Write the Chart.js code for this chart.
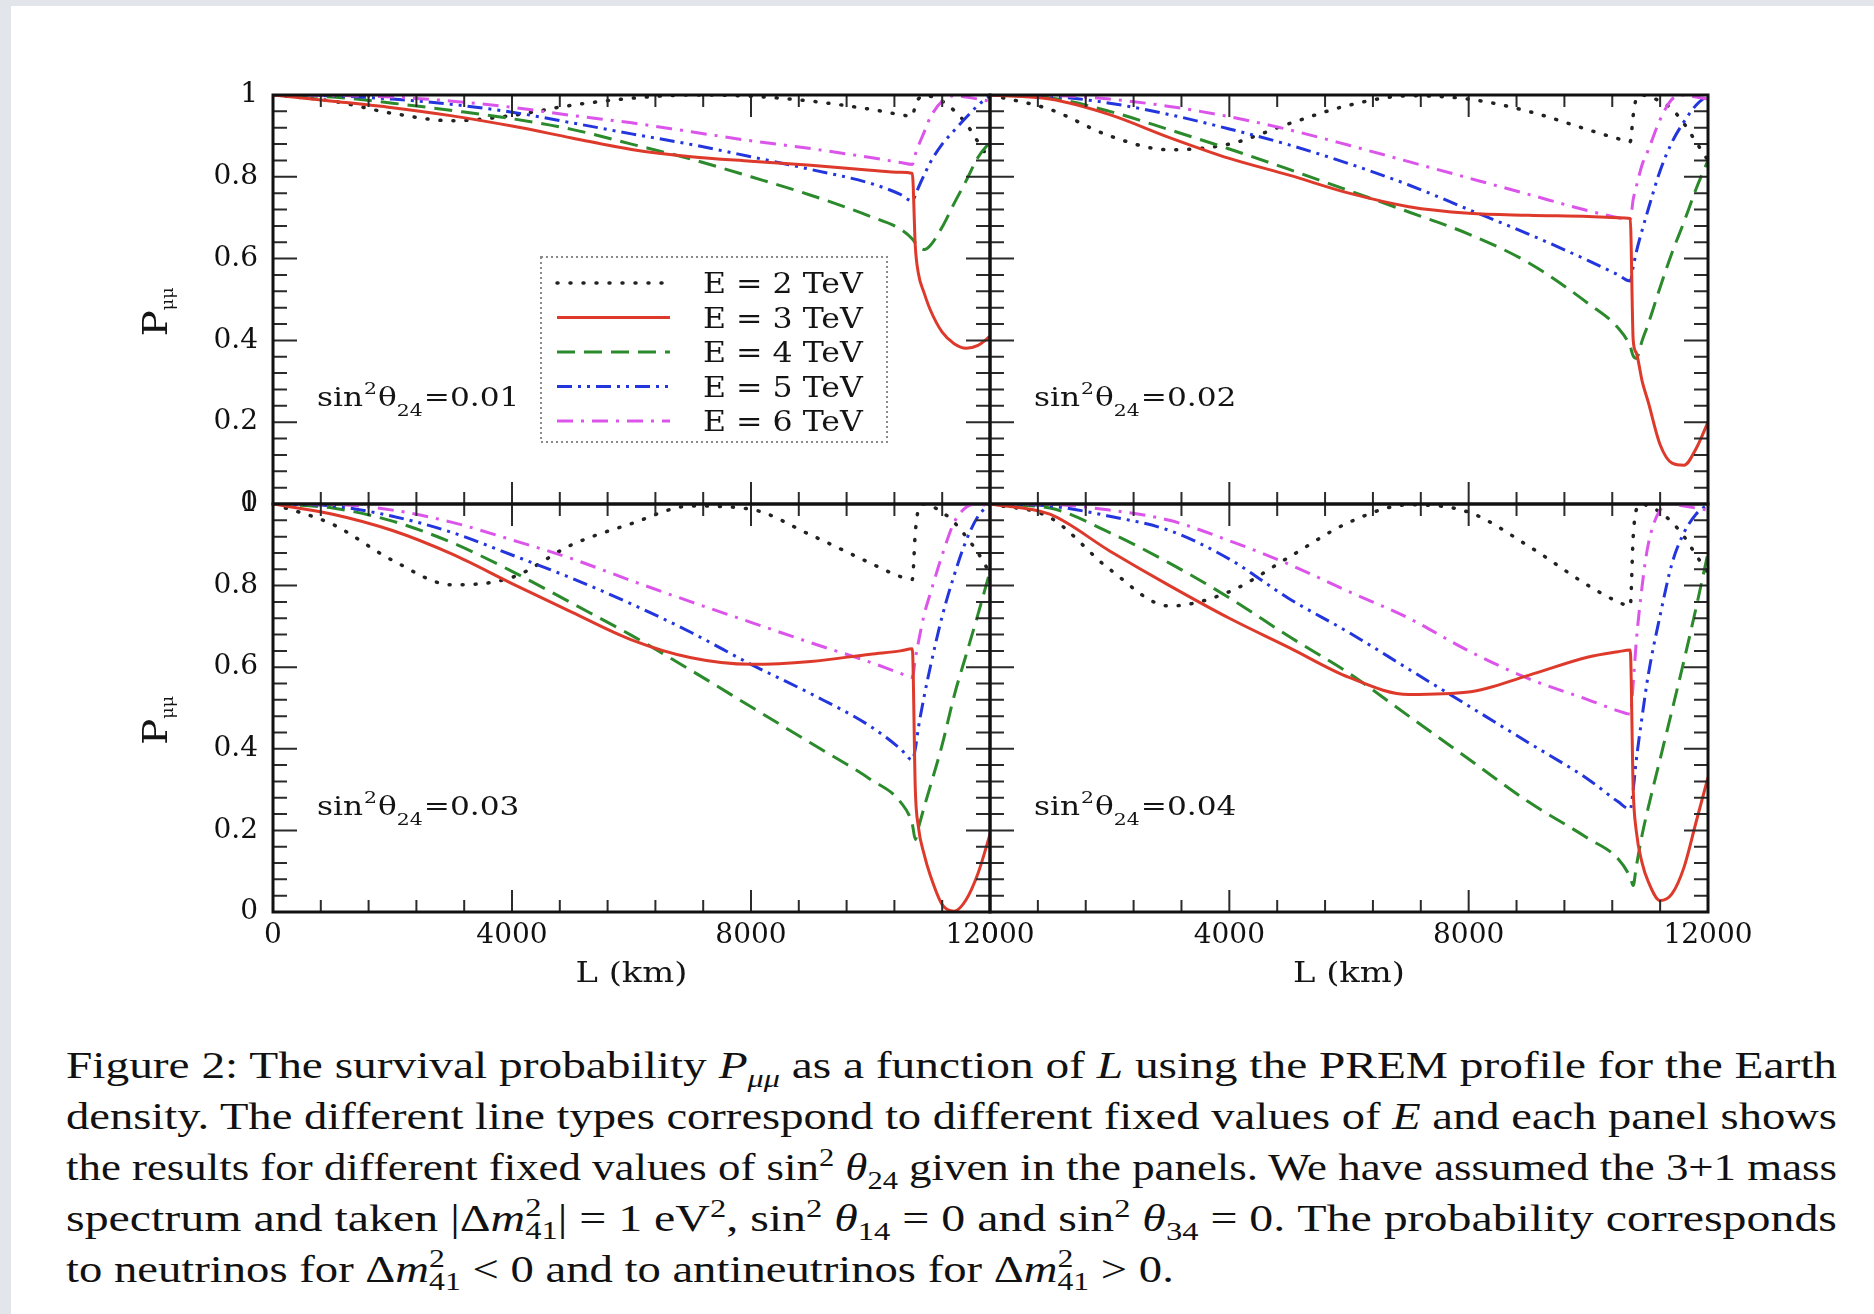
<!DOCTYPE html>
<html>
<head>
<meta charset="utf-8">
<title>Survival probability P_mumu vs L</title>
<script src="https://cdn.jsdelivr.net/npm/chart.js@4.4.1/dist/chart.umd.min.js"></script>
<style>
  html, body { margin: 0; padding: 0; }
  body { width: 1874px; height: 1314px; background: #e2e5e9; position: relative; overflow: hidden; }
  #sheet { position: absolute; left: 11px; top: 6px; right: 0; bottom: 0; background: #fff; }
  canvas.panel { position: absolute; }
  #caption { position: absolute; left: 66px; top: 1040px; width: 1771px; font-family: "Liberation Serif", serif;
             font-size: 38px; line-height: 51px; color: #111; }
  #caption .ln { white-space: nowrap; height: 51px; }
  #caption .tx { display: inline-block; transform-origin: 0 50%; }
  #caption sup, #caption sub { font-size: 0.68em; line-height: 0; }
  #caption .st { display: inline-block; vertical-align: -0.3em; font-size: 0.68em; line-height: 0.9em; }
</style>
</head>
<body>
<div id="sheet"></div>
<canvas id="p1" class="panel"></canvas>
<canvas id="p2" class="panel"></canvas>
<canvas id="p3" class="panel"></canvas>
<canvas id="p4" class="panel"></canvas>
<div id="caption">
  <div class="ln"><span class="tx">Figure 2: The survival probability <i>P</i><sub><i>μμ</i></sub> as a function of <i>L</i> using the PREM profile for the Earth</span></div>
  <div class="ln"><span class="tx">density. The different line types correspond to different fixed values of <i>E</i> and each panel shows</span></div>
  <div class="ln"><span class="tx">the results for different fixed values of sin<sup>2</sup> <i>θ</i><sub>24</sub> given in the panels. We have assumed the 3+1 mass</span></div>
  <div class="ln"><span class="tx">spectrum and taken |Δ<i>m</i><span class="st">2<br>41</span>| = 1 eV<sup>2</sup>, sin<sup>2</sup> <i>θ</i><sub>14</sub> = 0 and sin<sup>2</sup> <i>θ</i><sub>34</sub> = 0. The probability corresponds</span></div>
  <div class="ln last"><span class="tx">to neutrinos for Δ<i>m</i><span class="st">2<br>41</span> &lt; 0 and to antineutrinos for Δ<i>m</i><span class="st">2<br>41</span> &gt; 0.</span></div>
</div>

<script>
// baseline length L (km), shared by every curve
const L_KM = [0, 1000, 2000, 3000, 4000, 5000, 6000, 7000, 8000, 9000, 10000,
              10500, 10700, 10750, 10800, 10900, 11000, 11200, 11400, 11600, 11800, 12000];

const E_LABELS = ['E = 2 TeV', 'E = 3 TeV', 'E = 4 TeV', 'E = 5 TeV', 'E = 6 TeV'];
const SIN2_VALUES = ['0.01', '0.02', '0.03', '0.04'];

const X_TICKS = [0, 4000, 8000, 12000];
const Y_TICKS = [0, 0.2, 0.4, 0.6, 0.8, 1];
const X_MINOR = 800;
const Y_MINOR = 0.04;

// sin^2 theta24 = 0.01
const p1_E2 = [1.0, 0.985, 0.955, 0.937, 0.95, 0.975, 0.992, 1.0, 0.997, 0.985, 0.965, 0.952, 0.948, 0.975, 0.99, 0.998, 0.997, 0.985, 0.962, 0.93, 0.885, 0.84];
const p1_E3 = [1.0, 0.985, 0.969, 0.949, 0.924, 0.895, 0.867, 0.849, 0.838, 0.828, 0.816, 0.811, 0.808, 0.63, 0.565, 0.515, 0.475, 0.42, 0.392, 0.381, 0.388, 0.41];
const p1_E4 = [1.0, 0.995, 0.98, 0.962, 0.942, 0.916, 0.88, 0.843, 0.80, 0.755, 0.703, 0.672, 0.648, 0.638, 0.63, 0.622, 0.632, 0.677, 0.735, 0.79, 0.848, 0.885];
const p1_E5 = [1.0, 0.998, 0.99, 0.977, 0.958, 0.932, 0.905, 0.879, 0.849, 0.818, 0.784, 0.757, 0.741, 0.755, 0.773, 0.805, 0.835, 0.88, 0.913, 0.945, 0.975, 0.998];
const p1_E6 = [1.0, 0.999, 0.995, 0.985, 0.97, 0.95, 0.932, 0.91, 0.888, 0.869, 0.847, 0.835, 0.83, 0.855, 0.875, 0.91, 0.945, 0.985, 0.998, 0.995, 0.99, 0.985];

// sin^2 theta24 = 0.02
const p2_E2 = [1.0, 0.965, 0.9, 0.866, 0.88, 0.93, 0.975, 0.998, 0.99, 0.96, 0.915, 0.893, 0.886, 0.95, 0.99, 1.0, 0.996, 0.985, 0.965, 0.93, 0.885, 0.84];
const p2_E3 = [1.0, 0.99, 0.952, 0.896, 0.845, 0.804, 0.76, 0.727, 0.711, 0.706, 0.703, 0.70, 0.698, 0.40, 0.37, 0.30, 0.25, 0.145, 0.1, 0.095, 0.135, 0.2];
const p2_E4 = [1.0, 0.993, 0.96, 0.915, 0.868, 0.818, 0.766, 0.714, 0.66, 0.59, 0.49, 0.43, 0.385, 0.362, 0.356, 0.40, 0.44, 0.53, 0.615, 0.69, 0.77, 0.84];
const p2_E5 = [1.0, 0.997, 0.98, 0.952, 0.917, 0.878, 0.832, 0.78, 0.72, 0.66, 0.595, 0.56, 0.545, 0.58, 0.615, 0.67, 0.72, 0.815, 0.885, 0.935, 0.975, 1.0];
const p2_E6 = [1.0, 0.999, 0.99, 0.972, 0.947, 0.915, 0.877, 0.837, 0.797, 0.757, 0.717, 0.70, 0.695, 0.745, 0.775, 0.83, 0.865, 0.94, 0.99, 1.0, 0.995, 0.99];

// sin^2 theta24 = 0.03
const p3_E2 = [1.0, 0.95, 0.862, 0.802, 0.82, 0.9, 0.952, 0.995, 0.987, 0.924, 0.855, 0.822, 0.815, 0.93, 0.985, 1.0, 0.996, 0.98, 0.955, 0.92, 0.88, 0.83];
const p3_E3 = [1.0, 0.975, 0.935, 0.877, 0.805, 0.735, 0.667, 0.623, 0.607, 0.614, 0.632, 0.64, 0.645, 0.30, 0.21, 0.14, 0.09, 0.018, 0.002, 0.03, 0.095, 0.19];
const p3_E4 = [1.0, 0.99, 0.958, 0.905, 0.835, 0.757, 0.678, 0.592, 0.503, 0.414, 0.325, 0.27, 0.215, 0.178, 0.205, 0.258, 0.308, 0.41, 0.53, 0.63, 0.73, 0.835];
const p3_E5 = [1.0, 0.995, 0.97, 0.93, 0.875, 0.818, 0.755, 0.685, 0.607, 0.535, 0.455, 0.40, 0.373, 0.4, 0.45, 0.53, 0.6, 0.725, 0.825, 0.91, 0.97, 1.0];
const p3_E6 = [1.0, 0.999, 0.985, 0.955, 0.912, 0.866, 0.812, 0.76, 0.71, 0.66, 0.612, 0.585, 0.575, 0.62, 0.66, 0.73, 0.78, 0.875, 0.955, 0.992, 1.0, 0.995];

// sin^2 theta24 = 0.04
const p4_E2 = [1.0, 0.967, 0.84, 0.75, 0.785, 0.87, 0.955, 0.998, 0.98, 0.897, 0.80, 0.76, 0.75, 0.92, 0.985, 1.0, 0.995, 0.98, 0.955, 0.92, 0.875, 0.83];
const p4_E3 = [1.0, 0.975, 0.885, 0.80, 0.72, 0.648, 0.575, 0.533, 0.539, 0.58, 0.625, 0.638, 0.642, 0.30, 0.2, 0.12, 0.075, 0.028, 0.045, 0.11, 0.22, 0.33];
const p4_E4 = [1.0, 0.99, 0.93, 0.855, 0.77, 0.675, 0.585, 0.48, 0.375, 0.27, 0.18, 0.13, 0.085, 0.065, 0.11, 0.19, 0.255, 0.375, 0.495, 0.617, 0.745, 0.88];
const p4_E5 = [1.0, 0.995, 0.97, 0.935, 0.865, 0.768, 0.685, 0.595, 0.505, 0.415, 0.325, 0.27, 0.252, 0.3, 0.37, 0.48, 0.58, 0.727, 0.855, 0.93, 0.975, 1.0];
const p4_E6 = [1.0, 0.999, 0.985, 0.96, 0.91, 0.852, 0.785, 0.72, 0.64, 0.572, 0.52, 0.493, 0.485, 0.56, 0.66, 0.80, 0.9, 0.985, 1.0, 0.995, 0.99, 0.985];

const PANEL_SERIES = [
    [p1_E2, p1_E3, p1_E4, p1_E5, p1_E6],
    [p2_E2, p2_E3, p2_E4, p2_E5, p2_E6],
    [p3_E2, p3_E3, p3_E4, p3_E5, p3_E6],
    [p4_E2, p4_E3, p4_E4, p4_E5, p4_E6]
];

// line look for each energy, in E_LABELS order
const LINE_STYLES = [
    { color: '#222222', dash: [1, 12], cap: 'round', width: 3.5, order: 4 },
    { color: '#dd3a2c', dash: [], cap: 'butt', width: 3, order: 0 },
    { color: '#2b8a2b', dash: [18, 9], cap: 'butt', width: 3, order: 3 },
    { color: '#2335dc', dash: [15, 6, 3, 6, 3, 6], cap: 'butt', width: 3, order: 2 },
    { color: '#dc55ea', dash: [16, 8, 3, 8], cap: 'butt', width: 3, order: 1 }
];

// page layout of the four frames (px)
const FRAMES = [
    { left: 273, top: 95, width: 717, height: 409 },
    { left: 990, top: 95, width: 718, height: 409 },
    { left: 273, top: 504, width: 717, height: 408 },
    { left: 990, top: 504, width: 718, height: 408 }
];
const M_LEFT = 160, M_RIGHT = 70, M_TOP = 40, M_BOTTOM = 100;
const FONT = '"DejaVu Serif", serif';
const STRETCH = 1.2;

function putText(ctx, str, x, y, size, sx) {
    ctx.save();
    ctx.translate(x, y);
    ctx.scale(sx, 1);
    ctx.font = size + 'px ' + FONT;
    ctx.fillText(str, 0, 0);
    let w = ctx.measureText(str).width * sx;
    ctx.restore();
    return w;
}

const decorPlugin = {
    id: 'decor',
    afterDatasetsDraw(chart, args, opts) {
        let ctx = chart.ctx;
        let a = chart.chartArea;
        let xs = chart.scales.x;
        let ys = chart.scales.y;

        ctx.save();
        ctx.fillStyle = '#141414';
        ctx.textBaseline = 'alphabetic';

        // inward tick marks on all four sides
        ctx.strokeStyle = '#2b2b2b';
        ctx.lineWidth = 2;
        ctx.setLineDash([]);
        ctx.beginPath();
        for (let i = 0; i * X_MINOR <= xs.max; i++) {
            let px = xs.getPixelForValue(i * X_MINOR);
            let len = (i % 5 === 0) ? 22 : 12;
            ctx.moveTo(px, a.bottom); ctx.lineTo(px, a.bottom - len);
            ctx.moveTo(px, a.top); ctx.lineTo(px, a.top + len);
        }
        for (let i = 0; i <= Math.round(ys.max / Y_MINOR); i++) {
            let py = ys.getPixelForValue(i * Y_MINOR);
            let len = (i % 5 === 0) ? 24 : 14;
            ctx.moveTo(a.left, py); ctx.lineTo(a.left + len, py);
            ctx.moveTo(a.right, py); ctx.lineTo(a.right - len, py);
        }
        ctx.stroke();

        ctx.strokeStyle = '#111';
        ctx.lineWidth = 3;
        ctx.strokeRect(a.left, a.top, a.right - a.left, a.bottom - a.top);

        // sin^2 theta_24 label
        let x = a.left + 44;
        let y = a.top + 311;
        x += putText(ctx, 'sin', x, y, 26, STRETCH);
        x += putText(ctx, '2', x + 1, y - 12, 17, STRETCH) + 2;
        x += putText(ctx, 'θ', x, y, 26, STRETCH);
        x += putText(ctx, '24', x, y + 10, 17, STRETCH);
        putText(ctx, '=' + opts.sin2, x + 1, y, 26, STRETCH);

        if (opts.yTitle) {
            ctx.save();
            ctx.translate(a.left - 106, (a.top + a.bottom) / 2 + 37);
            ctx.rotate(-Math.PI / 2);
            let w = putText(ctx, 'P', 0, 0, 34, 1.15);
            putText(ctx, 'μμ', w, 6, 16, 1.1);
            ctx.restore();
        }

        if (opts.xTitle) {
            ctx.textAlign = 'center';
            putText(ctx, 'L (km)', (a.left + a.right) / 2, a.bottom + 70, 27, 1.25);
            ctx.textAlign = 'left';
        }

        if (opts.legend) {
            let bx = a.left + 268, by = a.top + 162;
            ctx.strokeStyle = '#8a8a8a';
            ctx.lineWidth = 2;
            ctx.setLineDash([2, 3]);
            ctx.strokeRect(bx, by, 346, 185);
            chart.data.datasets.forEach(function(ds, i) {
                let ly = by + 26 + i * 34.5;
                ctx.strokeStyle = ds.borderColor;
                ctx.lineWidth = ds.borderWidth;
                ctx.lineCap = ds.borderCapStyle;
                ctx.setLineDash(ds.borderDash);
                ctx.beginPath();
                ctx.moveTo(bx + 16, ly);
                ctx.lineTo(bx + 129, ly);
                ctx.stroke();
                ctx.setLineDash([]);
                putText(ctx, ds.label, bx + 162, ly + 10, 27, 1.17);
            });
        }
        ctx.restore();
    }
};

function createPanel(canvasId, frame, series, sin2, opts) {
    let canvas = document.getElementById(canvasId);
    canvas.width = frame.width + M_LEFT + M_RIGHT;
    canvas.height = frame.height + M_TOP + M_BOTTOM;
    canvas.style.left = (frame.left - M_LEFT) + 'px';
    canvas.style.top = (frame.top - M_TOP) + 'px';

    let datasets = series.map(function(values, i) {
        let st = LINE_STYLES[i];
        return {
            label: E_LABELS[i],
            data: L_KM.map(function(l, j) { return { x: l, y: values[j] }; }),
            borderColor: st.color,
            borderDash: st.dash,
            borderCapStyle: st.cap,
            borderWidth: st.width,
            order: st.order,
            pointRadius: 0,
            fill: false,
            cubicInterpolationMode: 'monotone'
        };
    });

    let tickFont = { family: FONT, size: 28 };

    return new Chart(canvas.getContext('2d'), {
        type: 'line',
        data: { datasets: datasets },
        options: {
            responsive: false,
            animation: false,
            events: [],
            layout: { padding: { left: 0, right: M_RIGHT, top: M_TOP, bottom: 0 } },
            plugins: {
                legend: { display: false },
                tooltip: { enabled: false },
                decor: { sin2: sin2, legend: opts.legend, xTitle: opts.xLabels, yTitle: opts.yLabels }
            },
            scales: {
                x: {
                    type: 'linear',
                    min: X_TICKS[0],
                    max: X_TICKS[X_TICKS.length - 1],
                    grid: { display: false, drawTicks: false },
                    border: { display: false },
                    afterBuildTicks: function(scale) { scale.ticks = X_TICKS.map(v => ({ value: v })); },
                    ticks: {
                        display: opts.xLabels,
                        padding: 7,
                        maxRotation: 0,
                        autoSkip: false,
                        color: '#111',
                        font: tickFont,
                        callback: v => String(v)
                    },
                    afterFit: function(scale) { scale.height = M_BOTTOM; }
                },
                y: {
                    type: 'linear',
                    min: Y_TICKS[0],
                    max: Y_TICKS[Y_TICKS.length - 1],
                    grid: { display: false, drawTicks: false },
                    border: { display: false },
                    afterBuildTicks: function(scale) { scale.ticks = Y_TICKS.map(v => ({ value: v })); },
                    ticks: {
                        display: opts.yLabels,
                        padding: 15,
                        autoSkip: false,
                        color: '#111',
                        font: tickFont,
                        callback: v => String(+v.toFixed(1))
                    },
                    afterFit: function(scale) { scale.width = M_LEFT; }
                }
            }
        },
        plugins: [decorPlugin]
    });
}

createPanel('p1', FRAMES[0], PANEL_SERIES[0], SIN2_VALUES[0], { legend: true, xLabels: false, yLabels: true });
createPanel('p2', FRAMES[1], PANEL_SERIES[1], SIN2_VALUES[1], { legend: false, xLabels: false, yLabels: false });
createPanel('p3', FRAMES[2], PANEL_SERIES[2], SIN2_VALUES[2], { legend: false, xLabels: true, yLabels: true });
createPanel('p4', FRAMES[3], PANEL_SERIES[3], SIN2_VALUES[3], { legend: false, xLabels: true, yLabels: false });

// stretch each caption line to the full column, like the typeset page
(function fitCaption() {
    let box = document.getElementById('caption');
    let full = box.clientWidth;
    let lines = Array.from(box.querySelectorAll('.tx'));
    let factors = [];
    lines.forEach(function(span, i) {
        if (i < lines.length - 1) {
            let f = full / span.getBoundingClientRect().width;
            factors.push(f);
            span.style.transform = 'scaleX(' + f + ')';
        }
    });
    let avg = factors.reduce((s, f) => s + f, 0) / factors.length;
    lines[lines.length - 1].style.transform = 'scaleX(' + avg + ')';
})();
</script>
</body>
</html>
